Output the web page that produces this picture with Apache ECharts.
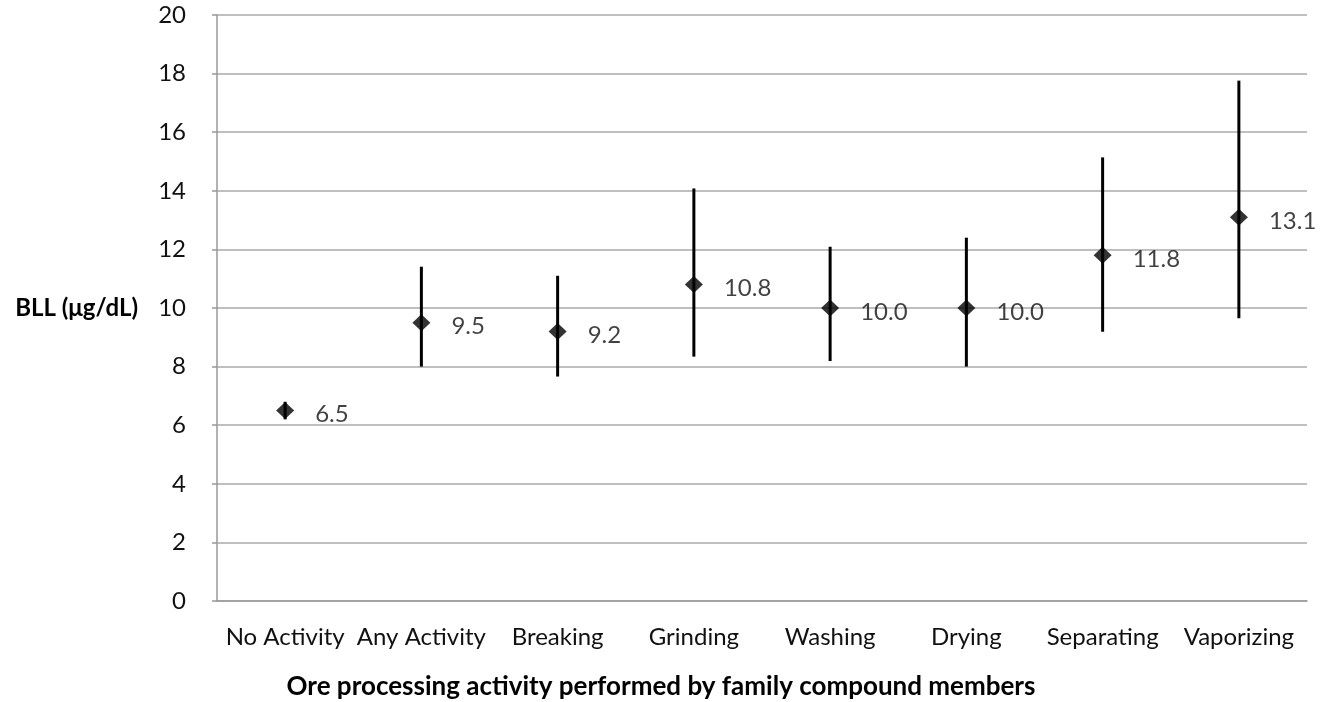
<!DOCTYPE html>
<html>
<head>
<meta charset="utf-8">
<script src="https://cdn.jsdelivr.net/npm/echarts@6/dist/echarts.min.js"></script>
<style>
html,body{margin:0;padding:0;background:#fff;}
#chart{width:1334px;height:702px;}
</style>
</head>
<body>
<div id="chart"></div>
<script>
var categories = ['No Activity', 'Any Activity', 'Breaking', 'Grinding', 'Washing', 'Drying', 'Separating', 'Vaporizing'];
var means = [6.5, 9.5, 9.2, 10.8, 10.0, 10.0, 11.8, 13.1];
var lows = [6.2, 8.0, 7.66, 8.34, 8.19, 8.0, 9.19, 9.65];
var highs = [6.8, 11.41, 11.1, 14.08, 12.09, 12.4, 15.14, 17.76];
var yTicks = [0, 2, 4, 6, 8, 10, 12, 14, 16, 18, 20];

var FONT = 'Lato';
var chart = echarts.init(document.getElementById('chart'));
var errData = categories.map(function (c, i) { return [i, lows[i], highs[i]]; });

chart.setOption({
  animation: false,
  backgroundColor: '#ffffff',
  textStyle: { fontFamily: FONT },
  title: {
    text: 'Ore processing activity performed by family compound members',
    left: 656,
    top: 669,
    textAlign: 'center',
    textStyle: { fontFamily: FONT, fontSize: 26, fontWeight: 'bold', color: '#000' }
  },
  grid: { left: 217, right: 27, top: 15, bottom: 101, containLabel: false },
  xAxis: {
    type: 'category',
    data: categories,
    boundaryGap: true,
    axisLine: { show: true, lineStyle: { color: '#999', width: 1.5 } },
    axisTick: { show: false },
    axisLabel: { fontFamily: FONT, fontSize: 24, color: '#111', margin: 24, interval: 0 }
  },
  yAxis: {
    type: 'value',
    min: yTicks[0],
    max: yTicks[yTicks.length - 1],
    interval: 2,
    name: 'BLL (\u03bcg/dL)',
    nameLocation: 'middle',
    nameRotate: 0,
    nameGap: 79,
    nameTextStyle: { fontFamily: FONT, fontSize: 24, fontWeight: 'bold', color: '#000', align: 'right', verticalAlign: 'middle' },
    axisLine: { show: true, lineStyle: { color: '#999', width: 1.5 } },
    axisTick: { show: true, length: 5, lineStyle: { color: '#999', width: 1.5 } },
    axisLabel: { fontFamily: FONT, fontSize: 24, color: '#111', margin: 31 },
    splitLine: { show: true, lineStyle: { color: '#aaa', width: 1.5 } }
  },
  series: [
    {
      type: 'custom',
      data: errData,
      renderItem: function (params, api) {
        var x = api.value(0);
        var p1 = api.coord([x, api.value(1)]);
        var p2 = api.coord([x, api.value(2)]);
        return {
          type: 'line',
          shape: { x1: p1[0], y1: p1[1], x2: p2[0], y2: p2[1] },
          style: { stroke: '#000', lineWidth: 3 }
        };
      },
      encode: { x: 0, y: [1, 2] },
      z: 2
    },
    {
      type: 'scatter',
      data: means,
      symbol: 'diamond',
      symbolSize: [18, 17],
      itemStyle: { color: '#000' },
      label: {
        show: true,
        position: 'right',
        distance: 21,
        offset: [0, 4],
        fontFamily: FONT,
        fontSize: 24,
        color: '#111',
        formatter: function (p) { return p.value.toFixed(1); }
      },
      z: 3
    }
  ]
});
</script>
</body>
</html>
